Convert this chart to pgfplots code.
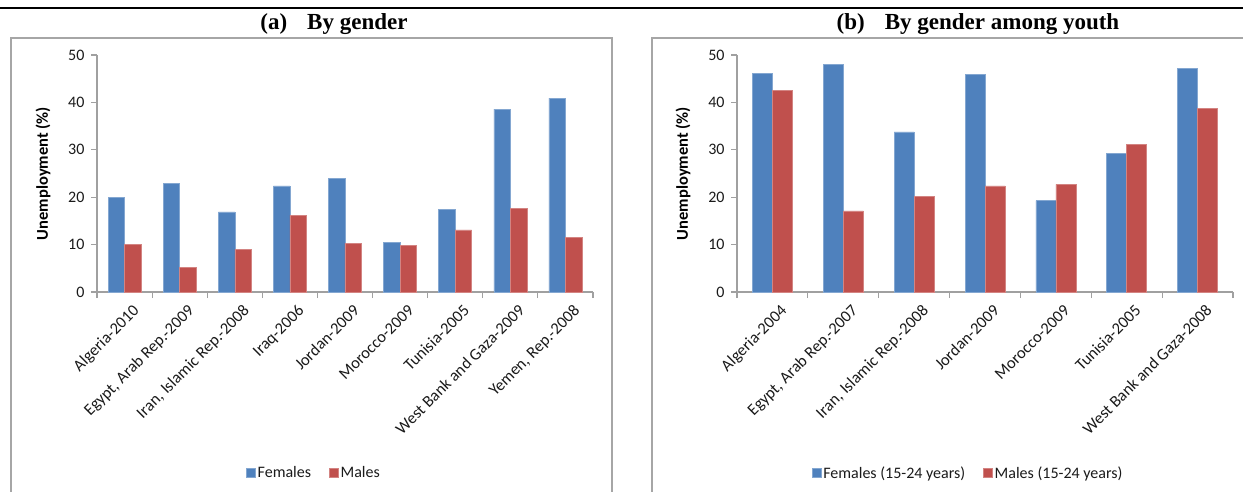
\documentclass[border=0pt]{standalone}
\usepackage{fontspec}
\setmainfont{Liberation Serif}
\newfontfamily\carlito{Carlito}
\usepackage{pgfplots}
\pgfplotsset{compat=1.18}
\definecolor{fem}{HTML}{4F81BD}
\definecolor{mal}{HTML}{C0504D}
\definecolor{axgray}{HTML}{A0A0A0}
\definecolor{boxgray}{HTML}{A6A6A6}
\definecolor{txt}{HTML}{1A1A1A}

\pgfplotsset{
 panel/.style={
  scale only axis, width=496pt, height=237pt,
  ymin=0, ymax=50, ytick={0,10,...,50},
  enlargelimits=false,
  axis x line*=bottom, axis y line*=left,
  axis line style={axgray, line width=1.2pt},
  tick align=outside,
  major tick length=6pt, minor tick length=6pt,
  y tick style={axgray, line width=1.2pt},
  major x tick style={draw=none},
  minor x tick style={axgray, line width=1.2pt},
  xtick=data,
  /pgf/number format/assume math mode=true,
  yticklabel style={font=\carlito\fontsize{16}{16}\selectfont, text=txt, xshift=-3pt},
  xticklabel style={font=\carlito\fontsize{16.5}{16.5}\selectfont, text=txt, rotate=45, anchor=north east, inner sep=1pt, yshift=-8pt, xshift=2pt},
  ylabel={Unemployment (\%)},
  ylabel style={font=\carlito\bfseries\fontsize{16.5}{16.5}\selectfont, text=black, at={(axis description cs:-0.1089,0.5)}, anchor=center},
  ybar=0pt,
  legend columns=2,
  legend style={draw=none, fill=none, font=\carlito\fontsize{16}{16}\selectfont, text=txt, /tikz/every even column/.append style={column sep=16pt}},
  legend image code/.code={\fill[##1] (0pt,-4.5pt) rectangle (9pt,4.5pt);},
 }
}

\begin{document}
\begin{tikzpicture}
\useasboundingbox (0pt,0pt) rectangle (1243pt,-492pt);
\draw[line width=2pt] (0pt,-8pt) -- (1243pt,-8pt);
\draw[boxgray, line width=1.5pt] (11pt,-495pt) -- (11pt,-38pt) -- (612pt,-38pt) -- (612pt,-495pt);
\draw[boxgray, line width=1.5pt] (652pt,-495pt) -- (652pt,-38pt) -- (1250pt,-38pt);
\node[font=\bfseries\fontsize{23}{23}\selectfont] at (334pt,-24pt) {(a)\hspace{20pt}By gender};
\node[font=\bfseries\fontsize{23}{23}\selectfont] at (978pt,-24pt) {(b)\hspace{20pt}By gender among youth};

\begin{axis}[panel, at={(97pt,-292pt)}, anchor=south west,
  xmin=-0.5, xmax=8.5, bar width=16.5pt,
  minor xtick={-0.5,0.5,...,8.5},
  xticklabels={Algeria-2010, {Egypt, Arab Rep.-2009}, {Iran, Islamic Rep.-2008}, Iraq-2006, Jordan-2009, Morocco-2009, Tunisia-2005, West Bank and Gaza-2009, {Yemen, Rep.-2008}},
  legend style={at={(axis description cs:0.4375,-0.7637)}, anchor=center}]
\addplot[fill=fem, draw=fem!70!white, line width=0.5pt] coordinates {(0,20.0) (1,22.9) (2,16.9) (3,22.4) (4,24.0) (5,10.5) (6,17.4) (7,38.6) (8,40.9)};
\addplot[fill=mal, draw=mal!70!white, line width=0.5pt] coordinates {(0,10.1) (1,5.2) (2,9.0) (3,16.2) (4,10.3) (5,9.8) (6,13.1) (7,17.6) (8,11.5)};
\legend{Females, Males}
\end{axis}

\begin{axis}[panel, at={(737pt,-292pt)}, anchor=south west,
  xmin=-0.5, xmax=6.5, bar width=20pt,
  minor xtick={-0.5,0.5,...,6.5},
  xticklabels={Algeria-2004, {Egypt, Arab Rep.-2007}, {Iran, Islamic Rep.-2008}, Jordan-2009, Morocco-2009, Tunisia-2005, West Bank and Gaza-2008},
  legend style={at={(axis description cs:0.466,-0.7637)}, anchor=center}]
\addplot[fill=fem, draw=fem!70!white, line width=0.5pt] coordinates {(0,46.1) (1,48.0) (2,33.8) (3,45.9) (4,19.3) (5,29.3) (6,47.1)};
\addplot[fill=mal, draw=mal!70!white, line width=0.5pt] coordinates {(0,42.6) (1,17.1) (2,20.2) (3,22.4) (4,22.7) (5,31.2) (6,38.8)};
\legend{Females (15-24 years), Males (15-24 years)}
\end{axis}
\end{tikzpicture}
\end{document}
